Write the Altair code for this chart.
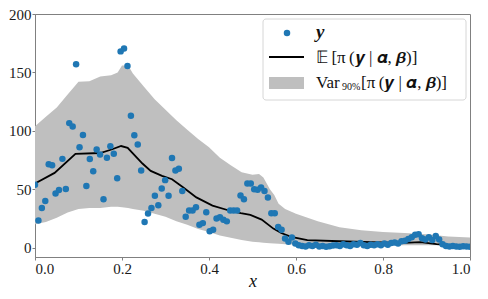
import altair as alt
import numpy as np
import pandas as pd

# observed points (evenly spaced in x on [0, 1])
obs_y = [
    53.8, 23.3, 34, 40, 71.4, 70.5, 46.4, 49.3, 76, 50.2,
    106.6, 103.8, 157, 86, 96.5, 52.7, 75.8, 65.4, 84, 79.8,
    41.4, 77, 86.9, 80.4, 59.5, 168, 170.5, 155.5, 112.9, 96.2,
    88.3, 66, 21.9, 29.2, 34, 44.5, 36.3, 50.7, 57.8, 44.5,
    76.7, 66, 67.6, 48.5, 26.4, 31.8, 31.8, 34.6, 19.7, 21,
    30.3, 14, 15.4, 25, 26.1, 23.9, 22.5, 31.8, 31.8, 31.8,
    44.7, 41.4, 55, 55, 50, 49.5, 51.5, 48.5, 43, 29.5,
    29.5, 17.6, 15.4, 7.8, 5, 8.6, 3.5, 2, 1.5, 1,
    2, 1.5, 2.5, 1, 1.5, 0.8, 1.2, 1.8, 2, 1.5,
    3, 2, 1.5, 3, 2.5, 4, 2, 1.5, 2.5, 2,
    3, 2, 3.5, 2.5, 4, 4.5, 3.5, 5.5, 6, 7.5,
    9, 11, 11.5, 8, 7, 9, 6.5, 10, 7, 3,
    1.5, 1, 1.5, 1, 0.8, 1.2, 1, 0.8,
]
obs_x = np.linspace(0, 1, len(obs_y))

# posterior mean curve
mean_x = [0, .045, .093, .15, .176, .198, .213, .247, .266, .292, .315, .341,
          .371, .408, .446, .473, .495, .521, .548, .566, .589, .626, .70,
          .773, .848, .886, .923, .961, 1.0]
mean_y = [55, 64, 80.3, 81, 84, 87, 85.4, 72, 65.7, 61.4, 58.6, 51.5,
          43, 36, 31.8, 29.5, 28, 24, 16.3, 12.5, 9.2, 6.4, 5.5,
          4.7, 4.1, 4.7, 3, 1.9, 1.3]

# 90% band
band_x = [0, .025, .05, .075, .1, .125, .15, .175, .19, .2, .214, .225, .25,
          .275, .3, .325, .35, .375, .4, .425, .45, .475, .5, .515, .525,
          .54, .55, .56, .575, .6, .65, .7, .75, .8, .85, .9, .95, 1.0]
band_hi = [104, 112, 120, 131, 142, 142.5, 146.5, 147.5, 150, 156, 156, 149,
           138, 127, 118, 109, 101, 93, 86, 77, 70.5, 64.5, 62.5, 63, 60,
           50, 45, 37.5, 33, 29, 22.5, 17.5, 14.8, 13.5, 12.5, 11.5, 9.5, 8.6]
band_lo = [20, 22, 25.5, 30, 33, 34, 34, 35, 35, 34.5, 34, 33, 31.5,
           29, 26.5, 22.5, 19.5, 16, 13.5, 10.5, 8.5, 6.5, 5, 4.6, 4.3,
           3.8, 3.5, 3.3, 3, 2.5, 2.2, 2, 2, 2, 2, 2, 2, 2]

x_ticks = [0, 0.2, 0.4, 0.6, 0.8, 1.0]
y_ticks = [0, 50, 100, 150, 200]

obs = pd.DataFrame({"x": obs_x, "y": obs_y})
mean = pd.DataFrame({"x": mean_x, "y": mean_y})
band = pd.DataFrame({"x": band_x, "lo": band_lo, "hi": band_hi})
one = pd.DataFrame({"k": [0]})

SERIF = "Liberation Serif"

xs = alt.Scale(domain=[0, 1], nice=False, zero=False)
ys = alt.Scale(domain=[-8, 200], nice=False, zero=False)

xax = alt.Axis(values=x_ticks, format=".1f", title="x", titleFontStyle="italic",
               titleFontWeight="normal", titleFontSize=18, titleFont=SERIF,
               titleBaseline="alphabetic", titleY=29, titleColor="#111")
yax = alt.Axis(values=y_ticks, format="d", title=None)

area = alt.Chart(band).mark_area(color="#bfbfbf", opacity=1, clip=True).encode(
    x=alt.X("x:Q", scale=xs, axis=xax),
    y=alt.Y("lo:Q", scale=ys, axis=yax),
    y2="hi:Q",
)
line = alt.Chart(mean).mark_line(color="black", strokeWidth=1.8, clip=True).encode(
    x=alt.X("x:Q", scale=xs), y=alt.Y("y:Q", scale=ys)
)
pts = alt.Chart(obs).mark_circle(color="#1f77b4", size=42, opacity=1, clip=True).encode(
    x=alt.X("x:Q", scale=xs), y=alt.Y("y:Q", scale=ys)
)

# legend
box = alt.Chart(one).mark_rect(fill="white", fillOpacity=0.8, stroke="#d6d6d6",
                               strokeWidth=1, cornerRadius=3).encode(
    x=alt.value(228), x2=alt.value(431), y=alt.value(5), y2=alt.value(86))
ldot = alt.Chart(one).mark_circle(color="#1f77b4", size=42, opacity=1).encode(
    x=alt.value(252), y=alt.value(19))
lline = alt.Chart(one).mark_rule(color="black", strokeWidth=1.8).encode(
    x=alt.value(234), x2=alt.value(269), y=alt.value(43))
lswatch = alt.Chart(one).mark_rect(color="#bfbfbf").encode(
    x=alt.value(234), x2=alt.value(269), y=alt.value(63), y2=alt.value(75))

def txt(s, x, y, size=17, **kw):
    return alt.Chart(one).mark_text(text=s, align="left", baseline="middle",
                                    font=SERIF, fontSize=size, color="#111", **kw).encode(
        x=alt.value(x), y=alt.value(y))

t1 = txt("y", 281, 18, size=19, fontStyle="italic", fontWeight="bold")
t2 = txt("𝔼\u2009[π\u2009(𝒚 | 𝜶, 𝜷)]", 281, 44)
t3a = txt("Var", 281, 69)
t3b = txt("90%", 307, 73, size=10)
t3c = txt("[π\u2009(𝒚 | 𝜶, 𝜷)]", 326, 69)

chart = alt.layer(area, line, pts, box, ldot, lline, lswatch, t1, t2, t3a, t3b, t3c).properties(
    width=435, height=243,
    autosize=alt.AutoSizeParams(type="none"),
    padding={"left": 27, "top": 6, "right": 10, "bottom": 34},
).configure_view(stroke="#808080", strokeWidth=1).configure_axis(
    domainColor="#808080", tickColor="#808080", tickSize=3, grid=False,
    labelFont=SERIF, labelFontSize=15, labelColor="#1a1a1a", labelPadding=1,
)

chart.save("out.html", embed_options={"renderer": "svg", "actions": False})
